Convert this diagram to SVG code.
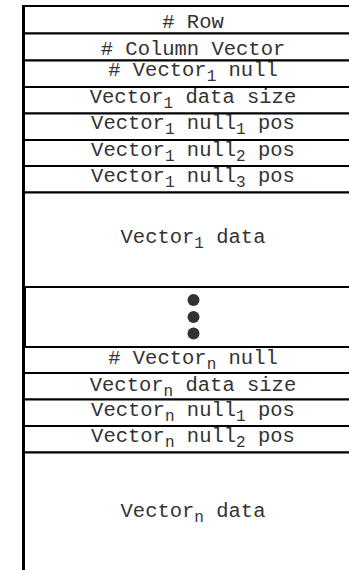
<svg xmlns="http://www.w3.org/2000/svg" width="349" height="570" viewBox="0 0 349 570">
<style>
.box{fill:#fff;stroke:#000;stroke-width:2}
.t{font-family:"Liberation Mono","Courier New",monospace;font-size:20.5px;fill:#333;text-anchor:middle}
.s{font-size:16px}
.dot{fill:#333}
</style>
<rect width="349" height="570" fill="#fff"/>
<g id="row"><rect class="box" x="23" y="6" width="360" height="27.5"/><text class="t" x="193" y="28"># Row</text></g>
<g id="column-vector"><rect class="box" x="23" y="33.5" width="360" height="27"/><text class="t" x="193" y="55"># Column Vector</text></g>
<g id="v1-null-count"><rect class="box" x="23" y="60.5" width="360" height="26.5"/><text class="t" x="193" y="76"># Vector<tspan class="s" dy="5">1</tspan><tspan dy="-5"> null</tspan></text></g>
<g id="v1-data-size"><rect class="box" x="23" y="87" width="360" height="26.5"/><text class="t" x="193" y="103">Vector<tspan class="s" dy="5">1</tspan><tspan dy="-5"> data size</tspan></text></g>
<g id="v1-null1-pos"><rect class="box" x="23" y="113.5" width="360" height="26.5"/><text class="t" x="193" y="129">Vector<tspan class="s" dy="5">1</tspan><tspan dy="-5"> null</tspan><tspan class="s" dy="5">1</tspan><tspan dy="-5"> pos</tspan></text></g>
<g id="v1-null2-pos"><rect class="box" x="23" y="140" width="360" height="26"/><text class="t" x="193" y="156">Vector<tspan class="s" dy="5">1</tspan><tspan dy="-5"> null</tspan><tspan class="s" dy="5">2</tspan><tspan dy="-5"> pos</tspan></text></g>
<g id="v1-null3-pos"><rect class="box" x="23" y="166" width="360" height="26.5"/><text class="t" x="193" y="182">Vector<tspan class="s" dy="5">1</tspan><tspan dy="-5"> null</tspan><tspan class="s" dy="5">3</tspan><tspan dy="-5"> pos</tspan></text></g>
<g id="v1-data"><rect class="box" x="23" y="192.5" width="360" height="94.5"/><text class="t" x="193" y="243">Vector<tspan class="s" dy="5">1</tspan><tspan dy="-5"> data</tspan></text></g>
<g id="ellipsis"><rect class="box" x="25" y="287" width="360" height="60"/><circle class="dot" cx="193.5" cy="300" r="6"/><circle class="dot" cx="193.5" cy="317" r="6"/><circle class="dot" cx="193.5" cy="333.5" r="6"/></g>
<g id="vn-null-count"><rect class="box" x="23" y="347" width="360" height="26"/><text class="t" x="193" y="364"># Vector<tspan class="s" dy="5">n</tspan><tspan dy="-5"> null</tspan></text></g>
<g id="vn-data-size"><rect class="box" x="23" y="373" width="360" height="26.5"/><text class="t" x="193" y="391">Vector<tspan class="s" dy="5">n</tspan><tspan dy="-5"> data size</tspan></text></g>
<g id="vn-null1-pos"><rect class="box" x="23" y="399.5" width="360" height="26.5"/><text class="t" x="193" y="416">Vector<tspan class="s" dy="5">n</tspan><tspan dy="-5"> null</tspan><tspan class="s" dy="5">1</tspan><tspan dy="-5"> pos</tspan></text></g>
<g id="vn-null2-pos"><rect class="box" x="23" y="426" width="360" height="26.5"/><text class="t" x="193" y="442">Vector<tspan class="s" dy="5">n</tspan><tspan dy="-5"> null</tspan><tspan class="s" dy="5">2</tspan><tspan dy="-5"> pos</tspan></text></g>
<g id="vn-data"><rect class="box" x="23" y="452.5" width="360" height="140"/><text class="t" x="193" y="517">Vector<tspan class="s" dy="5">n</tspan><tspan dy="-5"> data</tspan></text></g>
<g id="frame"><line x1="23.5" y1="5" x2="23.5" y2="570" stroke="#000" stroke-width="3"/></g>
<g id="connectors"/>
</svg>
